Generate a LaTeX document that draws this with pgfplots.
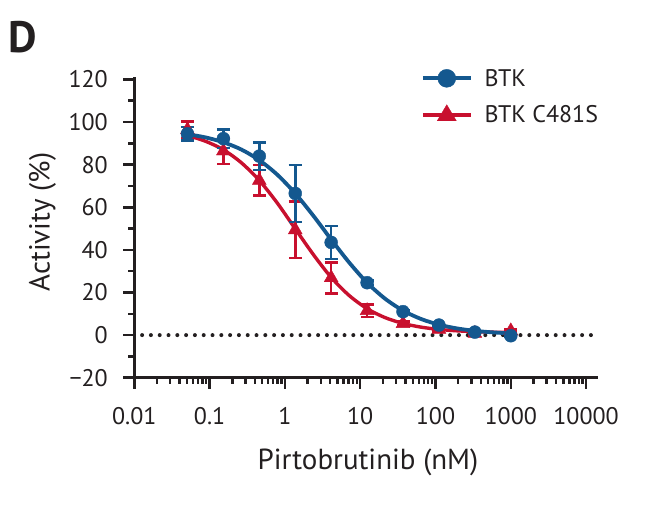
\documentclass[border=0pt]{standalone}
\usepackage{pgfplots}
\pgfplotsset{compat=1.18}
\usepackage{fontspec}
\setmainfont{PT Sans}
\definecolor{btkblue}{HTML}{14588F}
\definecolor{btkred}{HTML}{C8102E}
\definecolor{txt}{HTML}{231F20}
\begin{document}
\begin{tikzpicture}
\useasboundingbox (-134.3pt,-137.3pt) rectangle (520.7pt,377.7pt);
\node[font=\fontsize{44}{44}\selectfont\bfseries, anchor=base west, inner sep=0pt, text=txt] at (-126pt,325.7pt) {D};
\begin{axis}[
  scale only axis, width=463.7pt, height=300.4pt,
  xmode=log, xmin=0.01, xmax=14390, ymin=-20, ymax=121,
  axis lines=left, axis line style={-, line width=3pt, txt},
  xtick={0.01,0.1,1,10,100,1000,10000},
  xticklabels={0.01,0.1,1,10,100,1000,10000},
  minor xtick={0.02,0.03,0.04,0.05,0.06,0.07,0.08,0.09,0.2,0.3,0.4,0.5,0.6,0.7,0.8,0.9,2,3,4,5,6,7,8,9,20,30,40,50,60,70,80,90,200,300,400,500,600,700,800,900,2000,3000,4000,5000,6000,7000,8000,9000},
  ytick={-20,0,20,40,60,80,100,120},
  yticklabels={−20,0,20,40,60,80,100,120},
  minor ytick={-10,10,30,50,70,90,110},
  tick align=outside, major tick length=11pt, minor tick length=6pt,
  every tick/.style={line width=2.5pt, txt},
  tick label style={font=\fontsize{24}{24}\selectfont, text=txt},
  xticklabel style={yshift=-15pt},
  yticklabel style={xshift=-12pt},
  every axis y label/.style={at={(axis description cs:-0.198,0.518)}, rotate=90, anchor=center, font=\fontsize{29}{29}\selectfont, text=txt},
  every axis x label/.style={at={(axis description cs:0.504,-0.307)}, anchor=base, font=\fontsize{29}{29}\selectfont, text=txt},
  ylabel={Activity (\%)}, xlabel={Pirtobrutinib (nM)},
  legend style={at={(axis description cs:0.6176,1.028)}, anchor=north west, draw=none, fill=none,
    font=\fontsize{24}{24}\selectfont, text=txt, inner sep=0pt, row sep=17pt, column sep=12pt,
    nodes={inner sep=0pt, anchor=west}},
  legend cell align=left,
  clip=false,
]
\addlegendimage{legend image code/.code={\draw[btkblue, line width=3.8pt](0pt,0pt)--(48pt,0pt); \fill[btkblue](24pt,0pt) circle (9pt);}}
\addlegendentry{BTK}
\addlegendimage{legend image code/.code={\draw[btkred, line width=3.8pt](0pt,0pt)--(48pt,0pt); \fill[btkred](24pt,10pt)--(14.5pt,-6pt)--(33.5pt,-6pt)--cycle;}}
\addlegendentry{BTK C481S}

% zero line
\addplot[txt, line width=4pt, line cap=round, dash pattern=on 0pt off 8.8pt, forget plot] coordinates {(0.0127,0) (14000,0)};

% BTK C481S fit curve
\addplot[btkred, line width=3.4pt, smooth, forget plot] coordinates {
(0.0508,93.7) (0.0880,91.0) (0.1524,87.0) (0.264,80.9) (0.4572,72.6) (0.792,62.0)
(1.372,49.9) (2.376,37.9) (4.115,27.1) (7.128,18.6) (12.35,12.4) (21.38,8.21)
(37.04,5.47) (64.15,3.74) (111.1,2.67) (192.5,2.01) (333.3,1.61) (577.4,1.37) (1000,1.22)};
% BTK C481S points
\addplot[btkred, only marks, mark=triangle*, mark size=8pt, forget plot,
  error bars/.cd, y dir=both, y explicit,
  error bar style={line width=2.6pt, btkred},
  error mark options={rotate=90, mark size=6.5pt, line width=2.6pt, btkred}] coordinates {
(0.0508,96.4) +- (0,3.9)
(0.1524,86.4) +- (0,6)
(0.4572,72.6) +- (0,7.2)
(1.372,49.4) +- (0,13.3)
(4.115,26.9) +- (0,7.3)
(12.35,11.5) +- (0,3)
(37.04,5.4) +- (0,1)
(111.1,2.7) +- (0,1)
(333.3,0.8) +- (0,0.5)
(1000,2) +- (0,0.5)};

% BTK fit curve
\addplot[btkblue, line width=3.8pt, smooth, forget plot] coordinates {
(0.0508,94.3) (0.0880,92.8) (0.1524,90.5) (0.264,87.1) (0.4572,82.1) (0.792,75.3)
(1.372,66.5) (2.376,56.1) (4.115,44.9) (7.128,34.1) (12.35,24.6) (21.38,17.1)
(37.04,11.5) (64.15,7.57) (111.1,4.9) (192.5,3.14) (333.3,2.0) (577.4,1.27) (1000,0.8)};
% BTK points
\addplot[btkblue, only marks, mark=*, mark size=6.5pt, forget plot,
  error bars/.cd, y dir=both, y explicit,
  error bar style={line width=2.6pt, btkblue},
  error mark options={rotate=90, mark size=6.5pt, line width=2.6pt, btkblue}] coordinates {
(0.0508,94.5) +- (0,3.2)
(0.1524,92.2) +- (0,4.4)
(0.4572,84.0) +- (0,6.5)
(1.372,66.5) +- (0,13.4)
(4.115,43.5) +- (0,7.7)
(12.35,24.6) +- (0,1)
(37.04,11.0) +- (0,0.5)
(111.1,4.7) +- (0,0.5)
(333.3,1.4) +- (0,0.5)
(1000,-0.3) +- (0,0.5)};
\end{axis}
\end{tikzpicture}
\end{document}
